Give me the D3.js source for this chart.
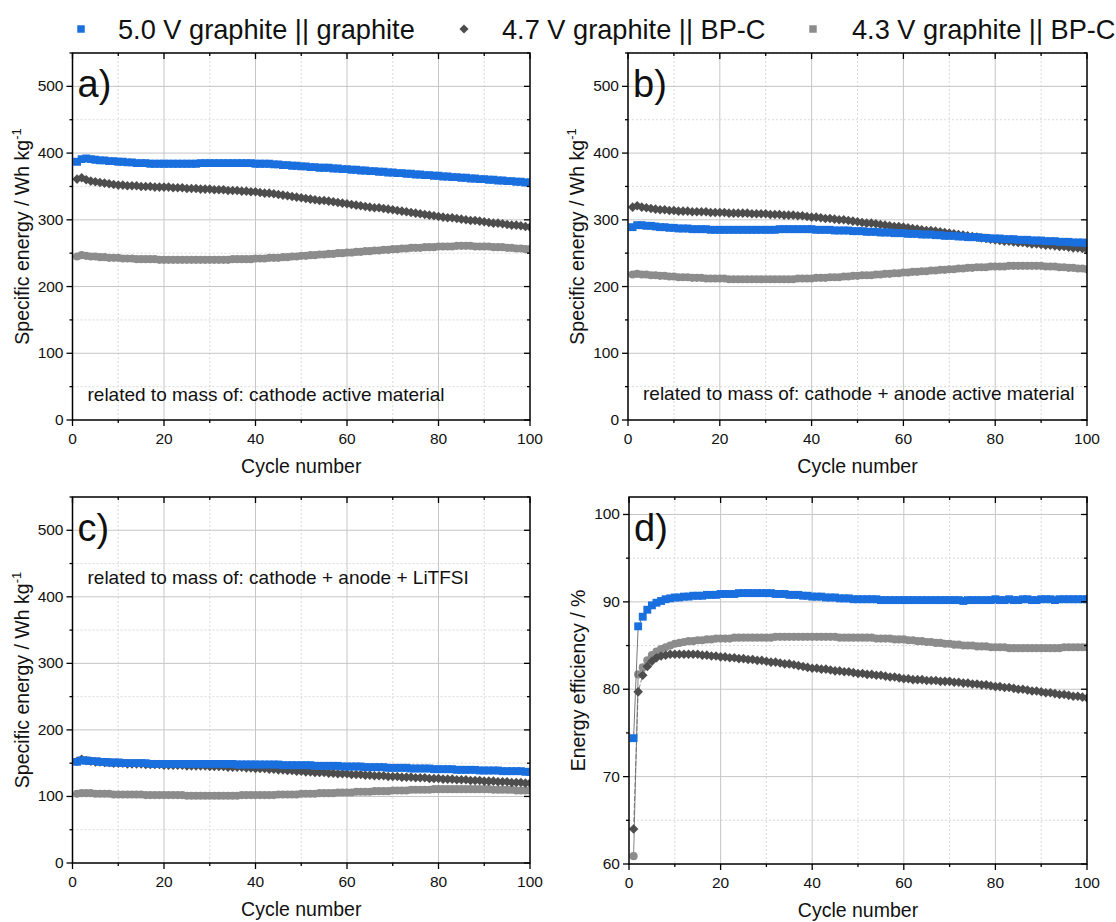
<html>
<head>
<meta charset="UTF-8">
<script src="https://d3js.org/d3.v7.min.js"></script>
<style>
  body { margin: 0; background: white; }
  svg text { font-family: "Liberation Sans", Arial, sans-serif; fill: #111; }
  .grid-major { stroke: #c6c6c6; stroke-width: 1; }
  .grid-minor { stroke: #d2d2d2; stroke-width: 0.8; stroke-dasharray: 2,2; }
  .frame { fill: none; stroke: #000; stroke-width: 1.5; }
  .tick { stroke: #000; stroke-width: 1.3; }
</style>
</head>
<body>
<svg id="chart" width="1116" height="922"></svg>
<script>
// cycle numbers 1..100
const cycles = d3.range(1, 101);

const seriesNames = ['5.0 V graphite || graphite', '4.7 V graphite || BP-C', '4.3 V graphite || BP-C'];
const seriesColors = ['#1a6fdf', '#4d4d4d', '#8c8c8c'];

// a) specific energy, cathode active material (Wh/kg)
const aBlue = [387,391,392,391,390,389,389,388,388,387, 387,386,386,385,385,385,384,384,384,384,
  384,384,384,384,384,384,384,385,385,385, 385,385,385,385,385,385,385,385,385,384,
  384,384,384,383,383,382,382,381,381,380, 380,379,379,378,378,378,377,377,376,376,
  375,375,374,374,373,373,372,372,371,371, 370,370,369,369,368,368,367,367,366,366,
  365,365,364,364,363,363,362,362,361,361, 360,360,359,359,358,358,357,357,356,356];
const aDark = [361,363,360,358,357,356,355,354,353,352, 352,351,351,351,350,350,350,349,349,349,
  349,348,348,348,347,347,347,346,346,346, 345,345,345,344,344,344,343,343,342,342,
  341,340,340,339,338,337,336,335,334,333, 332,331,330,329,329,328,327,326,325,324,
  323,322,321,320,319,318,318,317,316,315, 314,313,312,311,310,309,308,307,306,305,
  304,303,303,302,301,300,299,299,298,297, 296,295,295,294,293,292,292,291,290,289];
const aLight = [245,247,246,245,245,244,244,243,243,243, 242,242,242,241,241,241,241,241,240,240,
  240,240,240,240,240,240,240,240,240,240, 240,240,240,240,241,241,241,241,241,242,
  242,242,243,243,243,244,244,245,245,246, 246,247,247,248,248,249,249,250,250,251,
  251,252,252,253,253,254,254,255,255,256, 256,257,257,258,258,258,259,259,259,260,
  260,260,260,261,261,261,261,260,260,260, 260,259,259,259,258,258,257,257,256,256];

// b) cathode + anode active material
const bBlue = [289,292,292,291,291,290,289,289,288,288, 287,287,287,286,286,286,286,285,285,285,
  285,285,285,285,285,285,285,285,285,285, 285,285,286,286,286,286,286,286,286,286,
  285,285,285,285,284,284,284,284,283,283, 283,282,282,282,281,281,281,280,280,280,
  279,279,279,278,278,278,277,277,276,276, 276,275,275,274,274,274,273,273,272,272,
  272,271,271,271,270,270,270,269,269,269, 268,268,268,267,267,267,266,266,266,265];
const bDark = [319,321,319,318,317,316,315,315,314,314, 313,313,313,312,312,312,312,311,311,311,
  311,310,310,310,310,310,309,309,309,309, 308,308,308,307,307,307,306,306,305,304,
  304,303,302,302,301,300,300,299,298,297, 296,295,295,294,293,292,291,290,290,289,
  288,287,286,285,284,284,283,282,281,280, 279,278,277,276,275,274,273,272,271,270,
  269,268,268,267,266,266,265,264,264,263, 262,262,261,260,260,259,258,258,257,256];
const bLight = [218,219,218,218,217,217,216,216,215,215, 214,214,214,213,213,213,212,212,212,212,
  212,211,211,211,211,211,211,211,211,211, 211,211,211,211,211,211,212,212,212,212,
  213,213,213,214,214,214,215,215,216,216, 217,217,217,218,218,219,219,220,220,221,
  221,222,222,223,223,224,224,225,225,226, 226,227,227,228,228,229,229,229,230,230,
  230,230,231,231,231,231,231,231,231,231, 230,230,230,229,229,228,228,227,227,226];

// c) cathode + anode + LiTFSI
const cBlue = [152,154,154,153,153,152,152,151,151,151, 150,150,150,150,150,150,149,149,149,149,
  149,149,149,149,149,149,149,149,149,149, 149,149,149,149,149,148,148,148,148,148,
  148,148,148,148,148,147,147,147,147,147, 147,147,146,146,146,146,146,146,145,145,
  145,145,145,144,144,144,144,144,143,143, 143,143,143,142,142,142,142,142,141,141,
  141,141,141,140,140,140,140,140,139,139, 139,139,139,138,138,138,138,138,137,137];
const cDark = [153,156,154,153,152,152,151,151,150,150, 150,149,149,149,149,148,148,148,148,147,
  147,147,147,147,146,146,146,146,146,145, 145,145,145,144,144,144,144,143,143,142,
  142,142,141,141,140,140,139,139,138,138, 137,137,136,136,136,135,135,134,134,134,
  133,133,133,132,132,131,131,131,130,130, 130,129,129,129,128,128,128,127,127,127,
  126,126,126,125,125,125,124,124,124,123, 123,123,122,122,122,121,121,121,120,120];
const cLight = [104,105,105,105,104,104,104,104,103,103, 103,103,103,103,103,102,102,102,102,102,
  102,102,102,102,101,101,101,101,101,101, 101,101,101,101,101,101,102,102,102,102,
  102,102,102,102,103,103,103,103,103,104, 104,104,104,105,105,105,105,106,106,106,
  106,107,107,107,107,108,108,108,108,109, 109,109,109,110,110,110,110,110,111,111,
  111,111,111,111,111,111,111,111,111,111, 111,110,110,110,110,110,109,109,109,109];

// d) energy efficiency (%)
const dBlue = [74.4,87.2,88.3,89.1,89.6,89.9,90.1,90.3,90.4,90.5, 90.5,90.6,90.6,90.7,90.7,90.7,90.8,90.8,90.8,90.9,
  90.9,90.9,90.9,91.0,91.0,91.0,91.0,91.0,91.0,91.0, 91.0,90.9,90.9,90.9,90.8,90.8,90.8,90.7,90.7,90.6,
  90.6,90.6,90.5,90.5,90.5,90.4,90.4,90.4,90.3,90.3, 90.3,90.3,90.3,90.3,90.2,90.2,90.2,90.2,90.2,90.2,
  90.2,90.2,90.2,90.2,90.2,90.2,90.2,90.2,90.2,90.2, 90.2,90.2,90.1,90.2,90.2,90.2,90.2,90.2,90.2,90.3,
  90.2,90.2,90.3,90.2,90.2,90.3,90.3,90.2,90.2,90.3, 90.3,90.3,90.2,90.3,90.3,90.3,90.3,90.3,90.3,90.3];
const dDark = [64.0,79.7,81.6,82.6,83.2,83.6,83.8,83.9,84.0,84.0, 84.0,84.0,84.0,84.0,84.0,83.9,83.9,83.8,83.8,83.7,
  83.7,83.6,83.6,83.5,83.5,83.4,83.4,83.3,83.3,83.2, 83.1,83.1,83.0,82.9,82.9,82.8,82.7,82.6,82.5,82.4,
  82.4,82.3,82.3,82.2,82.1,82.1,82.0,82.0,81.9,81.8, 81.8,81.7,81.7,81.6,81.6,81.5,81.4,81.4,81.3,81.2,
  81.2,81.1,81.1,81.1,81.0,81.0,81.0,80.9,80.9,80.9, 80.8,80.8,80.7,80.7,80.6,80.6,80.5,80.5,80.4,80.3,
  80.3,80.2,80.2,80.1,80.0,80.0,79.9,79.8,79.8,79.7, 79.6,79.6,79.5,79.4,79.4,79.3,79.2,79.2,79.1,79.0];
const dLight = [60.9,81.7,82.5,83.3,83.9,84.3,84.6,84.8,85.0,85.2, 85.3,85.4,85.5,85.5,85.6,85.6,85.7,85.7,85.8,85.8,
  85.8,85.8,85.9,85.9,85.9,85.9,85.9,85.9,85.9,85.9, 85.9,86.0,86.0,86.0,86.0,86.0,86.0,86.0,86.0,86.0,
  86.0,86.0,86.0,86.0,86.0,85.9,85.9,85.9,85.9,85.9, 85.9,85.9,85.9,85.8,85.8,85.8,85.8,85.7,85.7,85.7,
  85.6,85.6,85.5,85.5,85.4,85.4,85.3,85.3,85.2,85.2, 85.1,85.1,85.0,85.0,85.0,84.9,84.9,84.9,84.8,84.8,
  84.8,84.8,84.7,84.7,84.7,84.7,84.7,84.7,84.7,84.7, 84.7,84.7,84.7,84.7,84.8,84.8,84.8,84.8,84.8,84.8];

const xTicks = [0, 20, 40, 60, 80, 100];
const energyTicks = [0, 100, 200, 300, 400, 500];
const effTicks = [60, 70, 80, 90, 100];

const svg = d3.select('#chart');

const panels = [
  { label: 'a)', x0: 72.5, x1: 530, top: 53, bottom: 420, yDomain: [0, 550], yTicks: energyTicks, yMinor: 50,
    yTitle: 'Specific energy / Wh kg', sup: '-1', note: 'related to mass of: cathode active material', noteY: 395,
    data: [aBlue, aDark, aLight], line: false },
  { label: 'b)', x0: 628, x1: 1087, top: 53, bottom: 420, yDomain: [0, 550], yTicks: energyTicks, yMinor: 50,
    yTitle: 'Specific energy / Wh kg', sup: '-1', note: 'related to mass of: cathode + anode active material', noteY: 394,
    data: [bBlue, bDark, bLight], line: false },
  { label: 'c)', x0: 72.5, x1: 530, top: 497, bottom: 863, yDomain: [0, 550], yTicks: energyTicks, yMinor: 50,
    yTitle: 'Specific energy / Wh kg', sup: '-1', note: 'related to mass of: cathode + anode + LiTFSI', noteY: 578,
    data: [cBlue, cDark, cLight], line: false },
  { label: 'd)', x0: 629, x1: 1087, top: 497, bottom: 864, yDomain: [60, 102], yTicks: effTicks, yMinor: 5,
    yTitle: 'Energy efficiency / %', sup: null, note: null,
    data: [dBlue, dDark, dLight], line: true }
];

// square, diamond (rotated square), circle
const symbols = [
  { gen: d3.symbol().type(d3.symbolSquare).size(62), rot: 0 },
  { gen: d3.symbol().type(d3.symbolSquare).size(46), rot: 45 },
  { gen: d3.symbol().type(d3.symbolCircle).size(52), rot: 0 }
];

panels.forEach(p => {
  const x = d3.scaleLinear().domain([0, 100]).range([p.x0, p.x1]);
  const y = d3.scaleLinear().domain(p.yDomain).range([p.bottom, p.top]);
  const g = svg.append('g');

  const yMinorTicks = d3.range(p.yDomain[0], p.yDomain[1] + 0.001, p.yMinor).filter(v => !p.yTicks.includes(v));
  const xMinorTicks = [10, 30, 50, 70, 90];

  // gridlines
  g.selectAll('line.gxm').data(xMinorTicks).join('line').attr('class', 'grid-minor')
    .attr('x1', d => x(d)).attr('x2', d => x(d)).attr('y1', p.top).attr('y2', p.bottom);
  g.selectAll('line.gym').data(yMinorTicks).join('line').attr('class', 'grid-minor')
    .attr('x1', p.x0).attr('x2', p.x1).attr('y1', d => y(d)).attr('y2', d => y(d));
  g.selectAll('line.gx').data(xTicks.slice(1, -1)).join('line').attr('class', 'grid-major')
    .attr('x1', d => x(d)).attr('x2', d => x(d)).attr('y1', p.top).attr('y2', p.bottom);
  g.selectAll('line.gy').data(p.yTicks.filter(v => v > p.yDomain[0])).join('line').attr('class', 'grid-major')
    .attr('x1', p.x0).attr('x2', p.x1).attr('y1', d => y(d)).attr('y2', d => y(d));

  // series, light grey drawn first, blue on top
  const clip = 'clip-' + p.label[0];
  svg.append('clipPath').attr('id', clip).append('rect')
    .attr('x', p.x0).attr('y', p.top).attr('width', p.x1 - p.x0).attr('height', p.bottom - p.top);
  const plot = g.append('g').attr('clip-path', 'url(#' + clip + ')');
  [2, 1, 0].forEach(i => {
    const vals = p.data[i];
    if (p.line) {
      plot.append('path')
        .attr('d', d3.line().x((d, k) => x(cycles[k])).y(d => y(d))(vals))
        .attr('fill', 'none').attr('stroke', i === 0 ? '#555' : '#666')
        .attr('stroke-width', 0.8).attr('stroke-dasharray', i === 1 ? '5,2' : null);
    }
    plot.selectAll('path.m' + i).data(vals).join('path')
      .attr('class', 'm' + i)
      .attr('d', symbols[i].gen)
      .attr('transform', (d, k) => 'translate(' + x(cycles[k]) + ',' + y(d) + ') rotate(' + symbols[i].rot + ')')
      .attr('fill', seriesColors[i]);
  });

  // frame
  g.append('rect').attr('class', 'frame')
    .attr('x', p.x0).attr('y', p.top).attr('width', p.x1 - p.x0).attr('height', p.bottom - p.top);

  // ticks: outward on left/bottom, inward on top/right
  g.selectAll('line.tb').data(xTicks).join('line').attr('class', 'tick')
    .attr('x1', d => x(d)).attr('x2', d => x(d)).attr('y1', p.bottom).attr('y2', p.bottom + 6);
  g.selectAll('line.tbm').data(xMinorTicks).join('line').attr('class', 'tick')
    .attr('x1', d => x(d)).attr('x2', d => x(d)).attr('y1', p.bottom).attr('y2', p.bottom + 3);
  g.selectAll('line.tt').data(xTicks).join('line').attr('class', 'tick')
    .attr('x1', d => x(d)).attr('x2', d => x(d)).attr('y1', p.top).attr('y2', p.top + 6);
  g.selectAll('line.ttm').data(xMinorTicks).join('line').attr('class', 'tick')
    .attr('x1', d => x(d)).attr('x2', d => x(d)).attr('y1', p.top).attr('y2', p.top + 3);
  g.selectAll('line.tl').data(p.yTicks).join('line').attr('class', 'tick')
    .attr('x1', p.x0 - 6).attr('x2', p.x0).attr('y1', d => y(d)).attr('y2', d => y(d));
  g.selectAll('line.tlm').data(yMinorTicks).join('line').attr('class', 'tick')
    .attr('x1', p.x0 - 3).attr('x2', p.x0).attr('y1', d => y(d)).attr('y2', d => y(d));
  g.selectAll('line.tr').data(p.yTicks).join('line').attr('class', 'tick')
    .attr('x1', p.x1 - 6).attr('x2', p.x1).attr('y1', d => y(d)).attr('y2', d => y(d));
  g.selectAll('line.trm').data(yMinorTicks).join('line').attr('class', 'tick')
    .attr('x1', p.x1 - 3).attr('x2', p.x1).attr('y1', d => y(d)).attr('y2', d => y(d));

  // tick labels
  g.selectAll('text.xl').data(xTicks).join('text')
    .attr('x', d => x(d)).attr('y', p.bottom + 24).attr('text-anchor', 'middle')
    .attr('font-size', 15.5).text(d => d);
  g.selectAll('text.yl').data(p.yTicks).join('text')
    .attr('x', p.x0 - 9).attr('y', d => y(d) + 5).attr('text-anchor', 'end')
    .attr('font-size', 15.5).text(d => d);

  // axis titles
  g.append('text').attr('x', (p.x0 + p.x1) / 2).attr('y', p.bottom + 53)
    .attr('text-anchor', 'middle').attr('font-size', 19.5).text('Cycle number');
  const yt = g.append('text')
    .attr('transform', 'translate(' + (p.x0 - 44) + ',' + ((p.top + p.bottom) / 2) + ') rotate(-90)')
    .attr('text-anchor', 'middle').attr('font-size', 19.5).text(p.yTitle);
  if (p.sup) {
    yt.append('tspan').attr('dy', -8).attr('font-size', 13).text(p.sup);
  }

  // panel label
  g.append('text').attr('x', p.x0 + 5).attr('y', p.top + 44)
    .attr('font-size', 38).text(p.label);

  // note
  if (p.note) {
    g.append('text').attr('x', p.x0 + 15).attr('y', p.noteY + 6)
      .attr('font-size', 19).text(p.note);
  }
});

// legend
const legendX = [81, 464, 813];
const legendTextX = [118, 502, 852];
const legendSymbols = [
  { gen: d3.symbol().type(d3.symbolSquare).size(56), rot: 0 },
  { gen: d3.symbol().type(d3.symbolSquare).size(42), rot: 45 },
  { gen: d3.symbol().type(d3.symbolSquare).size(56), rot: 0 }
];
const legend = svg.append('g');
seriesNames.forEach((name, i) => {
  legend.append('path').attr('d', legendSymbols[i].gen)
    .attr('transform', 'translate(' + legendX[i] + ',29) rotate(' + legendSymbols[i].rot + ')')
    .attr('fill', seriesColors[i]);
  legend.append('text').attr('x', legendTextX[i]).attr('y', 38.5)
    .attr('font-size', 27.2).text(name);
});
</script>
</body>
</html>
